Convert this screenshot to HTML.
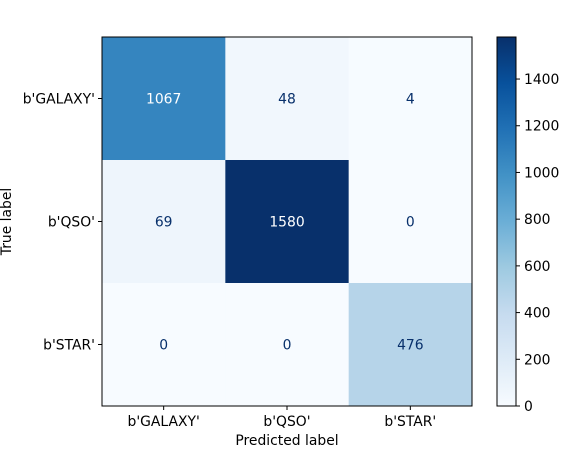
<!DOCTYPE html>
<html><head><meta charset="utf-8"><style>
body{margin:0;background:#fff;}
svg{display:block;font-family:"DejaVu Sans","Liberation Sans",sans-serif;}
</style></head><body>
<svg id="chart" width="564" height="452"></svg>
<script>
const classLabels=["b'GALAXY'","b'QSO'","b'STAR'"];
const row0=[1067,48,4];
const row1=[69,1580,0];
const row2=[0,0,476];
const cbTicks=[0,200,400,600,800,1000,1200,1400];
const matrix=[row0,row1,row2];
const vmin=0, vmax=1580;
const L=102,R=472,T=37,B=406;
const cw=(R-L)/3,ch=(B-T)/3;
const cbL=497,cbR=516;
const FS=13.9;
const NS="http://www.w3.org/2000/svg";
const svg=document.getElementById('chart');
const stops=["#f7fbff","#deebf7","#c6dbef","#9ecae1","#6baed6","#4292c6","#2171b5","#08519c","#08306b"].map(h=>[parseInt(h.slice(1,3),16),parseInt(h.slice(3,5),16),parseInt(h.slice(5,7),16)]);
function cmap(v){let t=(v-vmin)/(vmax-vmin);t=Math.max(0,Math.min(1,t))*(stops.length-1);const i=Math.min(Math.floor(t),stops.length-2),f=t-i;const c=stops[i].map((a,k)=>Math.round(a+(stops[i+1][k]-a)*f));return `rgb(${c[0]},${c[1]},${c[2]})`;}
function el(tag,attrs,parent){const e=document.createElementNS(NS,tag);for(const k in attrs)e.setAttribute(k,attrs[k]);(parent||svg).appendChild(e);return e;}
function xPos(j){return L+cw*(j+0.5);}
function yPos(i){return T+ch*(i+0.5);}
function cbY(v){return B-(v-vmin)/(vmax-vmin)*(B-T);}
for(let i=0;i<3;i++)for(let j=0;j<3;j++){
 const v=matrix[i][j];
 const r=el('rect',{x:L+cw*j,y:T+ch*i,width:cw+0.5,height:ch+0.5,fill:cmap(v)});
 
 
 const t=el('text',{x:xPos(j),y:yPos(i)+5,'text-anchor':'middle','font-size':FS,fill:v>(vmax+vmin)/2?'#fff':'#08306b'});
 t.textContent=v;
 
 
}
const fr=el('rect',{x:L,y:T,width:R-L,height:B-T,fill:'none',stroke:'#000','stroke-width':1});


classLabels.forEach((c,k)=>{
 el('line',{x1:xPos(k),x2:xPos(k),y1:B,y2:B+4,stroke:'#000'});
 const tx=el('text',{x:xPos(k),y:B+20,'text-anchor':'middle','font-size':FS,fill:'#000'});tx.textContent=c;
 
 
 el('line',{x1:L-4,x2:L,y1:yPos(k),y2:yPos(k),stroke:'#000'});
 const ty=el('text',{x:L-7,y:yPos(k)+5,'text-anchor':'end','font-size':FS,fill:'#000'});ty.textContent=c;
 
 
});
const xt=el('text',{x:(L+R)/2,y:445,'text-anchor':'middle','font-size':FS});xt.textContent='Predicted label';


const yt=el('text',{x:11,y:(T+B)/2,'text-anchor':'middle','font-size':FS,transform:`rotate(-90 11 ${(T+B)/2})`});yt.textContent='True label';


const defs=el('defs',{});
const g=el('linearGradient',{id:'cbg',x1:0,y1:1,x2:0,y2:0},defs);
stops.forEach((s,k)=>el('stop',{offset:k/(stops.length-1),'stop-color':`rgb(${s[0]},${s[1]},${s[2]})`},g));
const cb=el('rect',{x:cbL,y:T,width:cbR-cbL,height:B-T,fill:'url(#cbg)',stroke:'#000','stroke-width':1});


cbTicks.forEach(v=>{
 const y=cbY(v);
 el('line',{x1:cbR,x2:cbR+4,y1:y,y2:y,stroke:'#000'});
 const t=el('text',{x:cbR+8,y:y+5,'font-size':FS});t.textContent=v;
 
 
});
</script>
</body></html>
